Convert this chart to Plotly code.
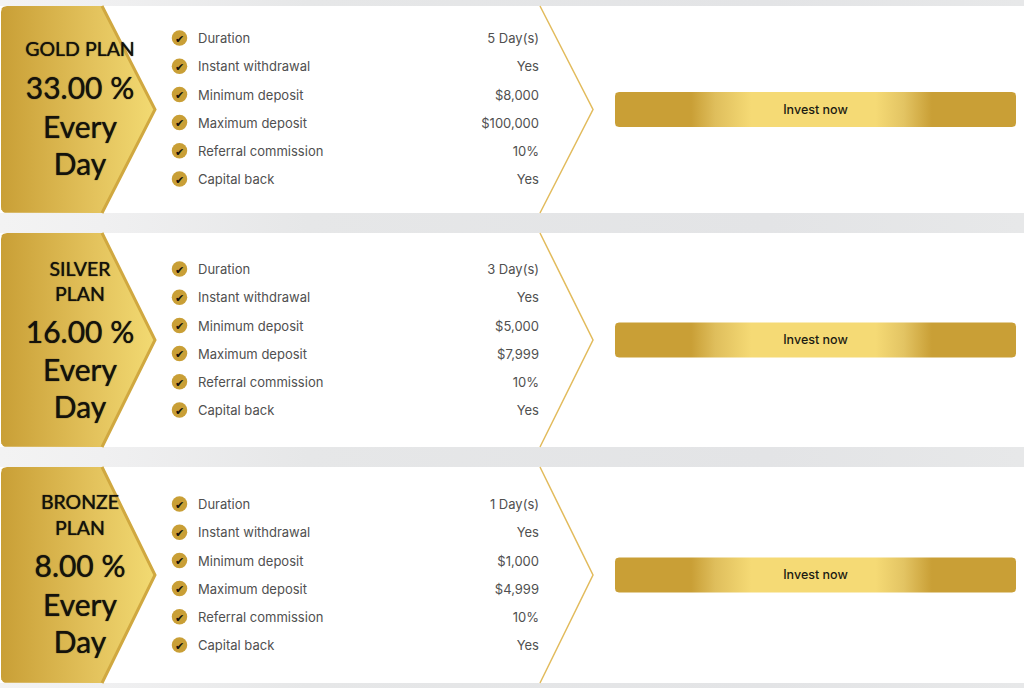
import numpy as np
import plotly.graph_objects as go

# plan content
plan_titles = [["GOLD PLAN"], ["SILVER", "PLAN"], ["BRONZE", "PLAN"]]
plan_rates = ["33.00 %", "16.00 %", "8.00 %"]
period_lines = ["Every", "Day"]
feature_labels = ["Duration", "Instant withdrawal", "Minimum deposit",
                  "Maximum deposit", "Referral commission", "Capital back"]
gold_values = ["5 Day(s)", "Yes", "$8,000", "$100,000", "10%", "Yes"]
silver_values = ["3 Day(s)", "Yes", "$5,000", "$7,999", "10%", "Yes"]
bronze_values = ["1 Day(s)", "Yes", "$1,000", "$4,999", "10%", "Yes"]
button_label = "Invest now"

# page layout in pixels
W, H = 1024, 688
card_tops = [6, 233, 467]
card_bottoms = [213, 447, 683]
row_starts = [38, 269, 504]
row_step = 28.2
title_ys = [[51], [271, 296], [504, 530]]
rate_ys = [91, 335, 569]
period_ys = [[130, 167], [373, 410], [608, 645]]
row_text_dy = 2
button_text_dy = 1

DARK = "#c99f36"
LINE = "#e2bb5c"
INK = "#14120c"
HEAD_FONT = "Lato"
BODY_FONT = "Inter"


def rounded(points, radii, steps=6):
    # closed outline with the corners eased off
    xs, ys = [], []
    n = len(points)
    for i in range(n):
        p = np.array(points[i], dtype=float)
        r = radii[i]
        if r == 0:
            xs.append(p[0])
            ys.append(p[1])
            continue
        a = np.array(points[i - 1], dtype=float)
        b = np.array(points[(i + 1) % n], dtype=float)
        p1 = p + (a - p) / np.linalg.norm(a - p) * r
        p2 = p + (b - p) / np.linalg.norm(b - p) * r
        for t in np.linspace(0, 1, steps):
            q = (1 - t) ** 2 * p1 + 2 * t * (1 - t) * p + t ** 2 * p2
            xs.append(q[0])
            ys.append(q[1])
    xs.append(xs[0])
    ys.append(ys[0])
    return xs, ys


def add_text(fig, x, y, text, font, size, color, pos, weight=400, shadow="none"):
    fig.add_trace(go.Scatter(x=x, y=y, text=text, mode="text", textposition=pos,
                             textfont=dict(family=font, size=size, color=color, weight=weight, shadow=shadow),
                             hoverinfo="skip", showlegend=False))


fig = go.Figure()

# grey strips between the cards, lighter towards the left
strip_tops = [0] + card_bottoms
strip_bottoms = card_tops + [H]
for t, b in zip(strip_tops, strip_bottoms):
    fig.add_trace(go.Scatter(x=[0, W, W, 0, 0], y=[t, t, b, b, t], mode="lines", fill="toself",
                             line=dict(width=0), hoverinfo="skip", showlegend=False,
                             fillgradient=dict(type="horizontal",
                                               colorscale=[[0, "#f3f3f3"], [0.1, "#f0f0f1"], [0.3, "#e6e7e8"],
                                                           [0.75, "#e3e4e6"], [1, "#e7e8e9"]])))

all_values = [gold_values, silver_values, bronze_values]

for i in range(3):
    top, bottom = card_tops[i], card_bottoms[i]
    mid = (top + bottom) / 2

    # white card
    fig.add_trace(go.Scatter(x=[0, W, W, 0, 0], y=[top, top, bottom, bottom, top], mode="lines", fill="toself",
                             fillcolor="white", line=dict(width=0), hoverinfo="skip", showlegend=False))

    # gold tab with its pointed edge
    tab = [(1, top), (102, top), (155, mid), (102, bottom), (1, bottom)]
    xs, ys = rounded(tab, [6, 0, 2, 0, 6])
    fig.add_trace(go.Scatter(x=xs, y=ys, mode="lines", fill="toself", line=dict(width=0),
                             hoverinfo="skip", showlegend=False,
                             fillgradient=dict(type="horizontal", colorscale=[[0, DARK], [0.6, "#e3c25c"], [1, "#f2da72"]])))
    fig.add_trace(go.Scatter(x=[102, 155, 102], y=[top, mid, bottom], mode="lines",
                             line=dict(color="#d0a840", width=3), hoverinfo="skip", showlegend=False))

    # thin chevron after the values
    fig.add_trace(go.Scatter(x=[540, 593, 540], y=[top, mid, bottom], mode="lines",
                             line=dict(color=LINE, width=1.5), hoverinfo="skip", showlegend=False))

    # button
    xs, ys = rounded([(615, mid - 17.5), (1016, mid - 17.5), (1016, mid + 17.5), (615, mid + 17.5)], [4, 4, 4, 4])
    fig.add_trace(go.Scatter(x=xs, y=ys, mode="lines", fill="toself", line=dict(width=0),
                             hoverinfo="skip", showlegend=False,
                             fillgradient=dict(type="horizontal",
                                               colorscale=[[0, DARK], [0.19, DARK], [0.25, "#dfbe5c"], [0.34, "#f5da75"],
                                                           [0.65, "#f5da75"], [0.72, "#e3c463"], [0.79, DARK], [1, DARK]])))
    add_text(fig, [815.5], [mid + button_text_dy], [button_label], BODY_FONT, 12.5, "#1c1a12", "middle center", 500)

    # feature rows
    row_y = [row_starts[i] + row_step * k for k in range(len(feature_labels))]
    text_y = [y + row_text_dy for y in row_y]
    fig.add_trace(go.Scatter(x=[179.5] * len(row_y), y=row_y, mode="markers",
                             marker=dict(size=15.5, color=DARK, line_width=0),
                             hoverinfo="skip", showlegend=False))
    add_text(fig, [179.5] * len(row_y), text_y, ["✔"] * len(row_y), "DejaVu Sans", 11, INK, "middle center")
    add_text(fig, [198] * len(row_y), text_y, feature_labels, BODY_FONT, 13, "#505050", "middle right")
    add_text(fig, [539] * len(row_y), text_y, all_values[i], BODY_FONT, 13, "#505050", "middle left")

    # tab headline, shadow thickens the regular cut a little
    add_text(fig, [80] * len(title_ys[i]), title_ys[i], plan_titles[i], HEAD_FONT, 19.5, INK, "middle center", 400, "0 0 1px #14120c")
    add_text(fig, [80], [rate_ys[i]], [plan_rates[i]], HEAD_FONT, 30, INK, "middle center", 400, "0 0 1px #14120c")
    add_text(fig, [80, 80], period_ys[i], period_lines, HEAD_FONT, 30, INK, "middle center", 400, "0 0 1px #14120c")

fig.update_layout(width=W, height=H, margin=dict(l=0, r=0, t=0, b=0),
                  paper_bgcolor="white", plot_bgcolor="white", showlegend=False, hovermode=False,
                  xaxis=dict(range=[0, W], visible=False, fixedrange=True),
                  yaxis=dict(range=[H, 0], visible=False, fixedrange=True))

# the page body has a default margin, drop it so the figure fills the window
fig.write_html("out.html", config=dict(displayModeBar=False),
               post_script="document.body.style.margin='0';document.documentElement.style.overflow='hidden';")
